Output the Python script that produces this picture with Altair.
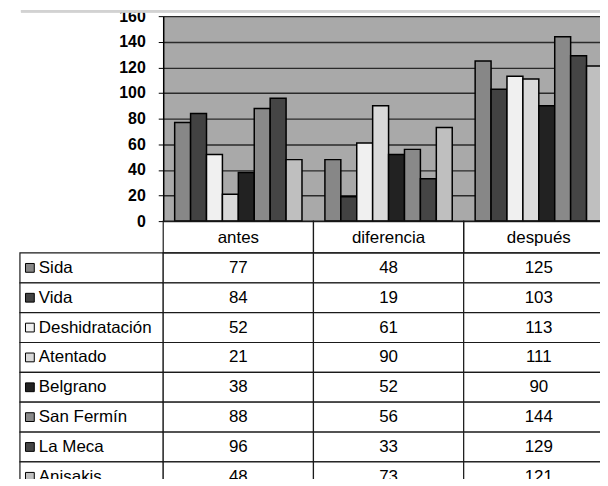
import altair as alt
import pandas as pd

categories = ["antes", "diferencia", "después"]
series = ["Sida", "Vida", "Deshidratación", "Atentado", "Belgrano",
          "San Fermín", "La Meca", "Anisakis"]
antes = [77, 84, 52, 21, 38, 88, 96, 48]
diferencia = [48, 19, 61, 90, 52, 56, 33, 73]
despues = [125, 103, 113, 111, 90, 144, 129, 121]
colors = ["#878787", "#424242", "#f0f0f0", "#d9d9d9", "#222222",
          "#898989", "#454545", "#bfbfbf"]
y_ticks = [0, 20, 40, 60, 80, 100, 120, 140, 160]

rows = []
for cat, vals in zip(categories, [antes, diferencia, despues]):
    for s, v in zip(series, vals):
        rows.append({"categoria": cat, "serie": s, "valor": v})
df = pd.DataFrame(rows)
legend_df = pd.DataFrame({"serie": series})
header_df = pd.DataFrame({"categoria": categories})

FONT = "Liberation Sans"
LINE = "#1a1a1a"
PLOT_W = 453
PLOT_H = 206
LEFT_W = 144
HEAD_H = 32
ROW_H = 30
TABLE_H = HEAD_H + ROW_H * len(series)

cat_scale = alt.Scale(domain=categories, paddingInner=0, paddingOuter=0)
ser_scale = alt.Scale(domain=series, range=[HEAD_H, TABLE_H], paddingInner=0, paddingOuter=0)
color_scale = alt.Scale(domain=series, range=colors)

blank = alt.Chart(legend_df).mark_text(text="").encode(
    x=alt.value(0), y=alt.value(0)
).properties(width=LEFT_W, height=PLOT_H, view=alt.ViewBackground(stroke=None))

bar_marks = alt.Chart(df).mark_bar(stroke="black", strokeWidth=1.5).encode(
    x=alt.X("categoria:N", sort=categories, scale=cat_scale,
            axis=alt.Axis(title=None, orient="bottom", domain=False, ticks=False,
                          labelAngle=0, labelFont=FONT, labelFontSize=17, labelColor="black",
                          labelBaseline="middle", labelPadding=16, grid=False)),
    xOffset=alt.XOffset("serie:N", sort=series,
                        scale=alt.Scale(domain=series, paddingInner=0, paddingOuter=0.72)),
    y=alt.Y("valor:Q", scale=alt.Scale(domain=[0, 160], nice=False),
            axis=alt.Axis(title=None, values=y_ticks, grid=True, gridColor="#2a2a2a",
                          gridWidth=1.3, domainColor="black", domainWidth=1.5,
                          tickColor="black", tickSize=5, labelFont=FONT, labelFontSize=16,
                          labelFontWeight="bold", labelPadding=13, labelColor="black")),
    color=alt.Color("serie:N", scale=color_scale, legend=None),
)
# light grey frame line along the top edge of the cropped picture
frame = alt.Chart(header_df).mark_rule(color="#d2d2d2", strokeWidth=2.5).encode(
    y=alt.value(-5), x=alt.value(-LEFT_W + 1), x2=alt.value(PLOT_W)
)
bars = alt.layer(bar_marks, frame).properties(
    width=PLOT_W, height=PLOT_H, view=alt.ViewBackground(fill="#a9a9a9", stroke=None))

no_axis = dict(title=None, labels=False, ticks=False, domain=False, grid=False)

cells = alt.Chart(df).mark_rect(fill="white", stroke=LINE, strokeWidth=1.2).encode(
    x=alt.X("categoria:N", sort=categories, scale=cat_scale, axis=alt.Axis(**no_axis)),
    y=alt.Y("serie:N", sort=series, scale=ser_scale, axis=alt.Axis(**no_axis)),
)
head_cells = alt.Chart(header_df).mark_rect(fill=None, stroke=LINE, strokeWidth=1.2).encode(
    x=alt.X("categoria:N", sort=categories, scale=cat_scale, axis=alt.Axis(**no_axis)),
    y=alt.value(0), y2=alt.value(HEAD_H),
)
values = alt.Chart(df).mark_text(font=FONT, fontSize=17, color="black",
                                 baseline="middle").encode(
    x=alt.X("categoria:N", sort=categories, scale=cat_scale, axis=alt.Axis(**no_axis)),
    y=alt.Y("serie:N", sort=series, scale=ser_scale, axis=alt.Axis(**no_axis)),
    text="valor:Q",
)
table = alt.layer(cells, head_cells, values).properties(
    width=PLOT_W, height=TABLE_H, view=alt.ViewBackground(stroke=None))

left_base = alt.Chart(legend_df).encode(
    y=alt.Y("serie:N", sort=series, scale=ser_scale, axis=alt.Axis(**no_axis))
)
left_cells = left_base.mark_rect(fill="white", stroke=LINE, strokeWidth=1.2).encode(
    x=alt.value(0), x2=alt.value(LEFT_W)
)
swatch = left_base.mark_square(size=78, stroke="black", strokeWidth=1, opacity=1).encode(
    x=alt.value(10),
    color=alt.Color("serie:N", scale=color_scale, legend=None),
)
names = left_base.mark_text(align="left", baseline="middle", font=FONT, fontSize=17,
                            color="black").encode(x=alt.value(19), text="serie:N")
left = alt.layer(left_cells, swatch, names).properties(
    width=LEFT_W, height=TABLE_H, view=alt.ViewBackground(stroke=None))

# negative right/bottom padding crops the chart at the window edge, as in the reference
chart = alt.concat(blank, bars, left, table, columns=2, spacing=0, bounds="flush").properties(
    padding={"left": 11, "top": -1, "right": -16, "bottom": -15},
    background="white",
)

chart.save("out.html", embed_options={"renderer": "svg", "actions": False})
